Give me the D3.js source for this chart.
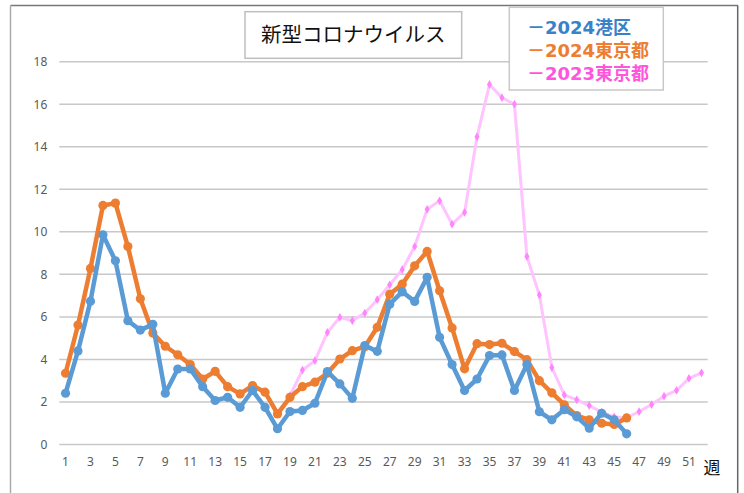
<!DOCTYPE html>
<html lang="ja">
  <head>
    <meta charset="UTF-8" />
    <title>新型コロナウイルス</title>
    <style>
      body {
        margin: 0;
        background: #fff;
      }
      .tick text {
        font-family: "Noto Sans", sans-serif;
        font-size: 12px;
        fill: #595959;
      }
      .grid line {
        stroke: #c8c8c8;
        stroke-width: 1.5px;
      }
      .line {
        fill: none;
        stroke-linejoin: round;
      }
    </style>
  </head>
  <body>
    <div class="svg-container"></div>
    <script src="https://d3js.org/d3.v7.min.js"></script>
    <script>
      // weeks and tick labels
      var weeks = d3.range(1, 53);
      var weekLabels = weeks.filter((w) => w % 2 === 1);
      var yTicks = [0, 2, 4, 6, 8, 10, 12, 14, 16, 18];

      // 2024 港区 (weeks 1-46)
      var minato2024 = [
        2.41, 4.4, 6.74, 9.86, 8.64, 5.82, 5.38, 5.65, 2.41, 3.55, 3.55, 2.72,
        2.07, 2.22, 1.75, 2.54, 1.75, 0.74, 1.55, 1.6, 1.94, 3.43, 2.85, 2.17,
        4.65, 4.38, 6.6, 7.18, 6.73, 7.86, 5.04, 3.76, 2.54, 3.08, 4.18, 4.21,
        2.54, 3.76, 1.54, 1.16, 1.64, 1.3, 0.77, 1.47, 1.16, 0.5
      ];

      // 2024 東京都 (weeks 1-46)
      var tokyo2024 = [
        3.35, 5.62, 8.28, 11.24, 11.35, 9.31, 6.85, 5.24, 4.62, 4.22, 3.76,
        3.08, 3.44, 2.72, 2.38, 2.77, 2.46, 1.44, 2.22, 2.72, 2.93, 3.35, 4.02,
        4.41, 4.6, 5.51, 7.07, 7.54, 8.4, 9.08, 7.23, 5.48, 3.56, 4.74, 4.7,
        4.76, 4.37, 3.99, 3.0, 2.43, 1.87, 1.36, 1.16, 1.0, 0.94, 1.25
      ];

      // 2023 東京都 (starts at week 19)
      var tokyo2023Start = 19;
      var tokyo2023 = [
        2.3, 3.5, 3.94, 5.27, 5.98, 5.82, 6.18, 6.81, 7.51, 8.22, 9.31, 11.06,
        11.46, 10.36, 10.91, 14.47, 16.93, 16.31, 16.0, 8.84, 7.03, 3.62, 2.33,
        2.1, 1.83, 1.52, 1.3, 1.25, 1.55, 1.88, 2.27, 2.54, 3.11, 3.37
      ];

      var W = 744,
        H = 493;
      var plot = { left: 59.3, right: 707.7, top: 61.7, bottom: 444.5 };

      var svg = d3
        .select(".svg-container")
        .append("svg")
        .attr("width", W)
        .attr("height", H);

      // outer frame
      svg.append("line").attr("x1", 10.5).attr("x2", 738).attr("y1", 5.5).attr("y2", 5.5)
        .attr("stroke", "#777").attr("stroke-width", 1.5);
      svg.append("line").attr("x1", 10.5).attr("x2", 10.5).attr("y1", 5.5).attr("y2", H)
        .attr("stroke", "#aaa").attr("stroke-width", 1.5);
      svg.append("line").attr("x1", 737.7).attr("x2", 737.7).attr("y1", 5.5).attr("y2", H)
        .attr("stroke", "#666").attr("stroke-width", 1.5);

      var x = d3
        .scaleBand()
        .domain(weeks)
        .range([plot.left, plot.right]);
      var y = d3
        .scaleLinear()
        .domain([0, 18])
        .range([plot.bottom, plot.top]);

      var cx = (w) => x(w) + x.bandwidth() / 2;

      // gridlines
      svg
        .append("g")
        .attr("class", "grid")
        .selectAll("line")
        .data(yTicks)
        .join("line")
        .attr("x1", plot.left)
        .attr("x2", plot.right)
        .attr("y1", (d) => y(d))
        .attr("y2", (d) => y(d))
        .attr("stroke", (d) => (d === 18 ? "#999" : null));

      // y axis
      svg
        .append("g")
        .attr("transform", "translate(" + (plot.left - 12) + ",0)")
        .call(d3.axisLeft(y).tickValues(yTicks).tickSize(0).tickPadding(0))
        .call((g) => g.select(".domain").remove());

      // x axis
      svg
        .append("g")
        .attr("transform", "translate(0," + (plot.bottom + 10) + ")")
        .call(
          d3.axisBottom(x).tickValues(weekLabels).tickSize(0).tickPadding(3)
        )
        .call((g) => g.select(".domain").remove());

      svg
        .append("text")
        .attr("x", 712)
        .attr("y", 474)
        .attr("text-anchor", "middle")
        .style("font-family", "'Noto Sans CJK JP', sans-serif")
        .style("font-size", "17px")
        .attr("fill", "#111")
        .text("週");

      var line = d3
        .line()
        .defined((d) => d.v != null)
        .x((d) => cx(d.w))
        .y((d) => y(d.v));

      var toPts = (arr, start) => arr.map((v, i) => ({ w: start + i, v: v }));

      var pink = toPts(tokyo2023, tokyo2023Start);
      var orange = toPts(tokyo2024, 1);
      var blue = toPts(minato2024, 1);

      // 2023 東京都
      svg
        .append("path")
        .datum(pink)
        .attr("class", "line")
        .attr("stroke", "#ffc4ff")
        .attr("stroke-width", 3)
        .attr("d", line);
      svg
        .append("g")
        .selectAll("path")
        .data(pink)
        .join("path")
        .attr("transform", (d) => "translate(" + cx(d.w) + "," + y(d.v) + ")")
        .attr("d", d3.symbol(d3.symbolDiamond, 22))
        .attr("fill", "#ff85ff");

      // 2024 東京都
      svg
        .append("path")
        .datum(orange)
        .attr("class", "line")
        .attr("stroke", "#ed7d31")
        .attr("stroke-width", 4.5)
        .attr("d", line);
      svg
        .append("g")
        .selectAll("circle")
        .data(orange)
        .join("circle")
        .attr("cx", (d) => cx(d.w))
        .attr("cy", (d) => y(d.v))
        .attr("r", 4.6)
        .attr("fill", "#ed7d31");

      // 2024 港区
      svg
        .append("path")
        .datum(blue)
        .attr("class", "line")
        .attr("stroke", "#5b9bd5")
        .attr("stroke-width", 4.5)
        .attr("d", line);
      svg
        .append("g")
        .selectAll("circle")
        .data(blue)
        .join("circle")
        .attr("cx", (d) => cx(d.w))
        .attr("cy", (d) => y(d.v))
        .attr("r", 4.6)
        .attr("fill", "#5b9bd5");

      // title box
      svg
        .append("rect")
        .attr("x", 245)
        .attr("y", 11.7)
        .attr("width", 216.7)
        .attr("height", 46.6)
        .attr("fill", "#fff")
        .attr("stroke", "#bfbfbf")
        .attr("stroke-width", 1.5);
      svg
        .append("text")
        .attr("x", 353.3)
        .attr("y", 35)
        .attr("dy", "0.36em")
        .attr("text-anchor", "middle")
        .style("font-family", "'Noto Sans CJK JP', sans-serif")
        .style("font-size", "20.5px")
        .attr("fill", "#111")
        .text("新型コロナウイルス");

      // legend box
      var legendItems = [
        { label: "－2024港区", color: "#3a82c8" },
        { label: "－2024東京都", color: "#ed7d31" },
        { label: "－2023東京都", color: "#ff55dd" }
      ];
      svg
        .append("rect")
        .attr("x", 509.3)
        .attr("y", 7.3)
        .attr("width", 154)
        .attr("height", 82.7)
        .attr("fill", "#fff")
        .attr("stroke", "#c8c8c8")
        .attr("stroke-width", 1.5);
      svg
        .append("g")
        .selectAll("text")
        .data(legendItems)
        .join("text")
        .attr("x", 527)
        .attr("y", (d, i) => 27.5 + i * 23.2)
        .attr("dy", "0.36em")
        .style("font-family", "'DejaVu Sans', 'Noto Sans CJK JP', sans-serif")
        .style("font-size", "18px")
        .style("font-weight", "bold")
        .attr("fill", (d) => d.color)
        .text((d) => d.label);
    </script>
  </body>
</html>
